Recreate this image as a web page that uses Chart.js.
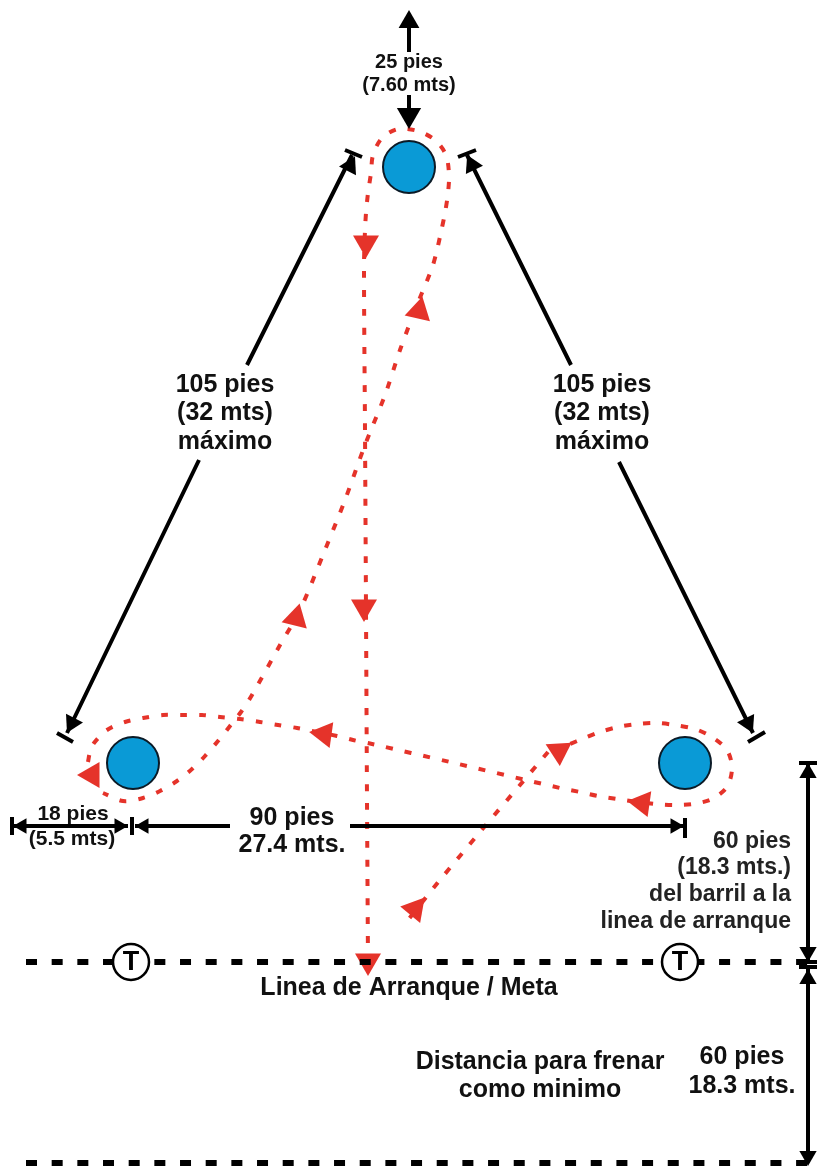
<!DOCTYPE html>
<html><head><meta charset="utf-8">
<style>html,body{margin:0;padding:0;background:#fff}canvas{display:block}</style>
<script src="https://cdn.jsdelivr.net/npm/chart.js@4"></script>
</head><body><canvas id="c" width="817" height="1166"></canvas>
<script>
// route of the run (field coordinates, y downwards)
const routeX = [368,367,366,365,364,365,366,368,371,373,382,398,418,435,446,449,448,445,441,437,432,415,400,385,365,345,325,300,280,252,241,230,218,205,192,177,160,143,123,103];
const routeY = [962,800,610,430,267,230,213,193,173,155,138,129,131,140,155,175,193,213,232,250,268,310,350,395,445,500,550,610,645,695,712,726,741,756,769,781,791,798,801,793];
const route2X = [88,90,94,107,125,143,163,182,202,220,240,260,278,297,337,353,372,450,560,580,598,617,655,675,693,712,727,732,727,712,695,675,657,637,618,600,582,570];
const route2Y = [762,752,743,730,722,718,715,715,715,717,719,722,725,728,736,740,744,762,788,792,796,799,804,805,804,799,787,768,750,737,729,725,723,724,727,732,739,744];
const route3X = [548,520,480,440,408];
const route3Y = [752,785,832,880,920];
const redArrowX = [366,419,296,364,92,324,642,559,415,368];
const redArrowY = [243,311,618,607,775,734,803,751,909,961];
const redArrowDir = [180,13,14,180,-90,-82,-82,57,40,180];
const barrelX = [409,133,685];
const barrelY = [167,763,763];
const timerX = [131,680];
const timerY = [962,962];
const timerLabels = ['T','T'];
const startLineX = [26,817];
const startLineY = [962,962];
const stopLineX = [26,817];
const stopLineY = [1163,1163];
// measurement segments, NaN breaks the line
const dimX = [409,409,NaN,409,409,NaN,352,247,NaN,199,67,NaN,467,571,NaN,619,753,NaN,13,128,NaN,135,230,NaN,350,684,NaN,808,808,NaN,808,808];
const dimY = [52,20,NaN,95,110,NaN,155,365,NaN,460,733,NaN,155,365,NaN,462,733,NaN,826,826,NaN,826,826,NaN,826,826,NaN,763,962,NaN,969,1160];
const capX = [345,362,NaN,57,73,NaN,458,476,NaN,748,765,NaN,12,12,NaN,132,132,NaN,685,685,NaN,799,817,NaN,799,817,NaN,799,817];
const capY = [150,157,NaN,733,742,NaN,157,150,NaN,742,732,NaN,817,835,NaN,817,835,NaN,818,838,NaN,763,763,NaN,962,962,NaN,967,967];
const headX = [409,409,350,72,472,748,22,119,144,675,808,808,808,808];
const headY = [22,115,166,723,165,723,826,826,826,826,773,952,979,1156];
const headDir = [0,180,27,207,-26,154,-90,90,-90,90,0,180,0,180];
const headSize = [12,14,11,11,11,11,9,9,9,9,10,10,10,10];
const labelTexts = ['25 pies','(7.60 mts)','105 pies','(32 mts)','máximo','105 pies','(32 mts)','máximo','18 pies','(5.5 mts)','90 pies','27.4 mts.','60 pies','(18.3 mts.)','del barril a la','linea de arranque','Linea de Arranque / Meta','Distancia para frenar','como minimo','60 pies','18.3 mts.'];
const labelX = [409,409,225,225,225,602,602,602,73,72,292,292,791,791,791,791,409,540,540,742,742];
const labelY = [62,85,385,413,442,385,413,442,814,839,818,845,842,868,895,922,988,1062,1090,1057,1086];
const labelSize = [20,20,25,25,25,25,25,25,21,21,25,25,23,23,23,23,25,25,25,25,25];
const labelAlign = ['center','center','center','center','center','center','center','center','center','center','center','center','right','right','right','right','center','center','center','center','center'];

const pts = (xs, ys) => xs.map((x, i) => ({x, y: ys[i]}));
const RED = '#e5332a', BLACK = '#000';
const redLine = (xs, ys) => ({data: pts(xs, ys), showLine: true, borderColor: RED, borderWidth: 4,
  borderDash: [7, 12], tension: 0.3, pointRadius: 0, order: 7, clip: false});
const textPlugin = {
  id: 'texts',
  afterDatasetsDraw(chart) {
    const {ctx, scales: {x, y}} = chart;
    ctx.save();
    ctx.textBaseline = 'middle';
    labelTexts.forEach((t, i) => {
      ctx.font = 'bold ' + labelSize[i] + 'px "Liberation Sans", Arial, sans-serif';
      ctx.textAlign = labelAlign[i];
      ctx.fillStyle = labelAlign[i] === 'right' ? '#222' : '#111';
      ctx.fillText(t, x.getPixelForValue(labelX[i]), y.getPixelForValue(labelY[i]));
    });
    ctx.font = 'bold 27px "Liberation Sans", Arial, sans-serif';
    ctx.textAlign = 'center';
    ctx.fillStyle = '#000';
    timerLabels.forEach((t, i) => ctx.fillText(t, x.getPixelForValue(timerX[i]), y.getPixelForValue(timerY[i]) + 1));
    ctx.restore();
  }
};
new Chart(document.getElementById('c'), {
  type: 'scatter',
  data: {datasets: [
    redLine(routeX, routeY), redLine(route2X, route2Y), redLine(route3X, route3Y),
    {data: pts(redArrowX, redArrowY), pointStyle: 'triangle', pointRadius: 15, pointRotation: redArrowDir,
     backgroundColor: RED, borderWidth: 0, order: 6, clip: false},
    {data: pts(startLineX, startLineY), showLine: true, borderColor: BLACK, borderWidth: 6, borderDash: [11, 14.67], pointRadius: 0, order: 5, clip: false},
    {data: pts(stopLineX, stopLineY), showLine: true, borderColor: BLACK, borderWidth: 6, borderDash: [11, 14.67], pointRadius: 0, order: 5, clip: false},
    {data: pts(dimX, dimY), showLine: true, borderColor: BLACK, borderWidth: 4, pointRadius: 0, spanGaps: false, order: 4, clip: false},
    {data: pts(capX, capY), showLine: true, borderColor: BLACK, borderWidth: 4, pointRadius: 0, spanGaps: false, order: 4, clip: false},
    {data: pts(headX, headY), pointStyle: 'triangle', pointRadius: headSize, pointRotation: headDir,
     backgroundColor: BLACK, borderWidth: 0, order: 3, clip: false},
    {data: pts(barrelX, barrelY), pointStyle: 'circle', pointRadius: 26, backgroundColor: '#0a9ad6', borderColor: '#0b1a26', borderWidth: 2, order: 2, clip: false},
    {data: pts(timerX, timerY), pointStyle: 'circle', pointRadius: 18, backgroundColor: '#fff', borderColor: BLACK, borderWidth: 2.5, order: 1, clip: false}
  ]},
  options: {
    responsive: false, animation: false, events: [],
    layout: {padding: 0, autoPadding: false},
    plugins: {legend: {display: false}, tooltip: {enabled: false}},
    scales: {
      x: {type: 'linear', display: false, min: 0, max: 817},
      y: {type: 'linear', display: false, min: 0, max: 1166, reverse: true}
    }
  },
  plugins: [textPlugin]
});
</script></body></html>
